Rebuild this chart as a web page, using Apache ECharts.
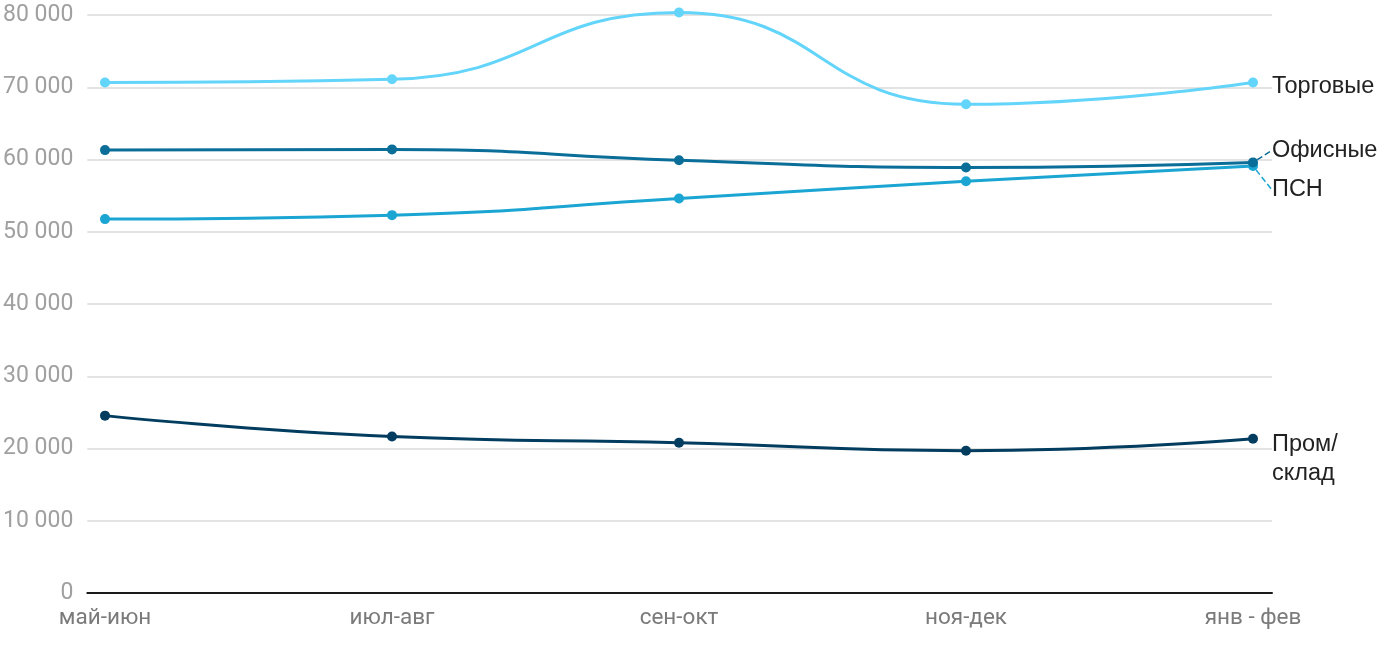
<!DOCTYPE html>
<html><head><meta charset="utf-8">
<script src="https://cdn.jsdelivr.net/npm/echarts@6/dist/echarts.min.js"></script>
<style>html,body{margin:0;padding:0;background:#fff}#c{width:1400px;height:650px}</style>
</head><body><div id="c"></div>
<script>
const categories = ['май-июн', 'июл-авг', 'сен-окт', 'ноя-дек', 'янв - фев'];
const trade = [70650, 71100, 80350, 67650, 70650];
const office = [61300, 61400, 59900, 58900, 59600];
const psn = [51750, 52300, 54600, 57000, 59100];
const industrial = [24550, 21650, 20800, 19700, 21350];
const seriesNames = ['Торговые', 'Офисные', 'ПСН', 'Пром/\nсклад'];
const seriesColors = ['#63d4fa', '#0a6e99', '#1aa5d2', '#023d60'];

const FONT = 'Roboto, Liberation Sans, Arial, sans-serif';
const LFONT = 'Liberation Sans, Arial, sans-serif';
const chart = echarts.init(document.getElementById('c'), null, {renderer: 'canvas'});
const labelDy = [4, -12, 24, 20];
function mk(name, data, color, idx) {
  const d = data.map((v, i) => i === data.length - 1 ? {
    value: v,
    label: {show: true, position: 'right', distance: 14, formatter: name,
      color: '#222', fontSize: 23.5, fontFamily: LFONT, align: 'left', lineHeight: 29}
  } : v);
  return {
    type: 'line', name: name, data: d, xAxisIndex: 1, yAxisIndex: 1,
    smooth: 0.5, clip: false, symbol: 'circle', symbolSize: 10,
    lineStyle: {width: 3, color: color}, itemStyle: {color: color},
    label: {show: false},
    labelLine: {show: idx === 1 || idx === 2, lineStyle: {type: 'dashed', color: color, width: 1.5}, length2: 0},
    labelLayout: function () { return {dy: labelDy[idx]}; },
    emphasis: {disabled: true}, z: 10 - idx
  };
}
chart.setOption({
  animation: false,
  grid: [
    {left: 87, right: 128, top: 15, bottom: 57},
    {left: 105, right: 147, top: 15, bottom: 57}
  ],
  xAxis: [
    {type: 'value', gridIndex: 0, min: 0, max: 1, axisLabel: {show: false}, axisTick: {show: false},
     splitLine: {show: false}, axisLine: {show: true, lineStyle: {color: '#1a1a1a', width: 2}}},
    {type: 'category', gridIndex: 1, data: categories, boundaryGap: false,
     axisLine: {show: false}, axisTick: {show: false}, splitLine: {show: false},
     axisLabel: {color: '#7a7a7a', fontSize: 22.5, fontFamily: FONT, margin: 14}}
  ],
  yAxis: [
    {type: 'value', gridIndex: 0, min: 0, max: 80000, interval: 10000,
     axisLine: {show: false}, axisTick: {show: false},
     splitLine: {lineStyle: {color: '#e3e3e3', width: 2}},
     axisLabel: {color: '#a0a0a0', fontSize: 23, fontFamily: FONT, margin: 14,
       formatter: v => v === 0 ? '0' : String(v).replace(/\B(?=(\d{3})+(?!\d))/g, ' ')}},
    {type: 'value', gridIndex: 1, min: 0, max: 80000, interval: 10000, show: false}
  ],
  series: [
    mk(seriesNames[0], trade, seriesColors[0], 0),
    mk(seriesNames[1], office, seriesColors[1], 1),
    mk(seriesNames[2], psn, seriesColors[2], 2),
    mk(seriesNames[3], industrial, seriesColors[3], 3)
  ]
});
</script></body></html>
